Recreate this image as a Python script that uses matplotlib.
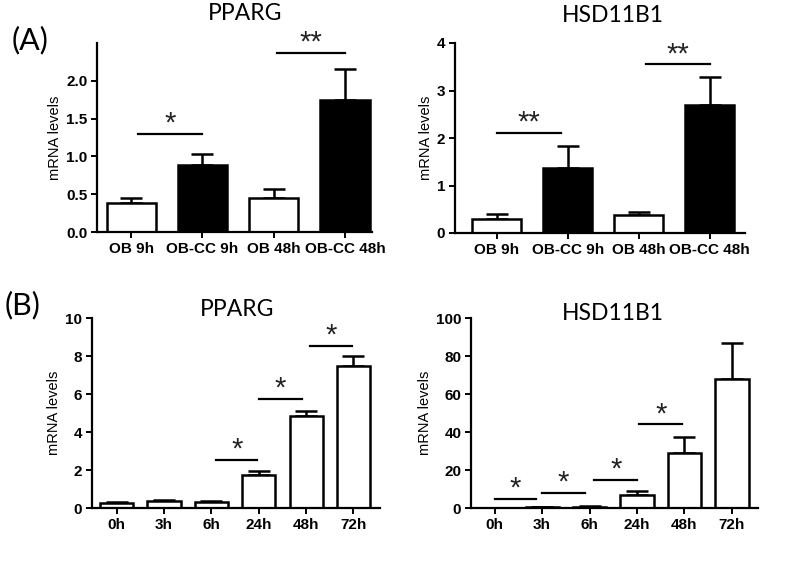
import numpy as np
import matplotlib
matplotlib.use("Agg")
import matplotlib.pyplot as plt

plt.rcParams['font.family'] = ['Liberation Sans', 'DejaVu Sans']

# panel A data
a_cats = ["OB 9h", "OB-CC 9h", "OB 48h", "OB-CC 48h"]
a_colors = ["white", "black", "white", "black"]
a_pparg = [0.39, 0.88, 0.45, 1.75]
a_pparg_err = [0.06, 0.15, 0.12, 0.41]
a_hsd = [0.30, 1.37, 0.37, 2.70]
a_hsd_err = [0.10, 0.46, 0.08, 0.58]
# significance marks: (from bar, to bar, height, label)
a_pparg_sig = [(0.1, 1.0, 1.30, "*"), (2.05, 3.0, 2.37, "**")]
a_hsd_sig = [(0.0, 0.9, 2.10, "**"), (2.1, 3.0, 3.55, "**")]

# panel B data
b_cats = ["0h", "3h", "6h", "24h", "48h", "72h"]
b_pparg = [0.27, 0.35, 0.30, 1.75, 4.85, 7.5]
b_pparg_err = [0.05, 0.05, 0.05, 0.20, 0.25, 0.5]
b_hsd = [0.05, 0.3, 0.6, 7.0, 29.0, 68.0]
b_hsd_err = [0.0, 0.1, 0.2, 2.0, 8.5, 19.0]
b_pparg_sig = [(2.1, 2.97, 2.53, "*"), (3.0, 3.91, 5.74, "*"), (4.08, 4.97, 8.53, "*")]
b_hsd_sig = [(0.0, 0.88, 4.7, "*"), (1.0, 1.9, 7.9, "*"), (2.1, 3.0, 14.7, "*"), (3.05, 3.95, 44.0, "*")]

W, H = 800, 566
fig = plt.figure(figsize=(8, 5.66), dpi=100)


def px_axes(l, r, b, t):
    return fig.add_axes([l / W, 1 - b / H, (r - l) / W, (b - t) / H])


def bar_panel(ax, cats, vals, errs, colors, sig, ylim, yticks, xlim, width, title, tx, ty, dy):
    x = np.arange(len(cats))
    ax.bar(x, vals, width=width, color=colors, edgecolor="black", linewidth=1.8, zorder=2)
    ax.errorbar(x, vals, yerr=[np.zeros(len(errs)), errs], fmt="none", ecolor="black",
                elinewidth=1.8, capsize=8, capthick=1.8, zorder=1)
    for i, j, h, lab in sig:
        ax.plot([i, j], [h, h], color="black", lw=1.6, clip_on=False)
        ax.text((i + j) / 2, h + dy, lab, ha="center", va="bottom", fontsize=21,
                color="#222222")
    ax.set_xlim(*xlim)
    ax.set_ylim(*ylim)
    ax.set_yticks(yticks)
    ax.set_xticks(x)
    ax.set_xticklabels(cats, fontsize=11, fontweight="bold")
    for lab in ax.get_yticklabels():
        lab.set_fontweight("bold")
        lab.set_fontsize(11)
    ax.set_ylabel("mRNA levels", fontsize=10.5, labelpad=3)
    for s in ["top", "right"]:
        ax.spines[s].set_visible(False)
    for s in ["left", "bottom"]:
        ax.spines[s].set_linewidth(1.6)
    ax.tick_params(width=1.4, length=4, pad=3)
    fig.text(tx / W, 1 - ty / H, title, ha="center", va="center", fontsize=16.5, family="Lato")


ax1 = px_axes(97, 372, 232, 43)
bar_panel(ax1, a_cats, a_pparg, a_pparg_err, a_colors, a_pparg_sig, (0, 2.5),
          [0, 0.5, 1.0, 1.5, 2.0], (-0.48, 3.38), 0.69, "PPARG", 245, 14, -0.05)
ax1.set_yticklabels(["0.0", "0.5", "1.0", "1.5", "2.0"])

ax2 = px_axes(455, 745, 233, 43)
bar_panel(ax2, a_cats, a_hsd, a_hsd_err, a_colors, a_hsd_sig, (0, 4),
          [0, 1, 2, 3, 4], (-0.59, 3.5), 0.69, "HSD11B1", 613, 15, -0.08)

ax3 = px_axes(92, 380, 508, 318)
bar_panel(ax3, b_cats, b_pparg, b_pparg_err, ["white"] * 6, b_pparg_sig, (0, 10),
          [0, 2, 4, 6, 8, 10], (-0.52, 5.56), 0.7, "PPARG", 237, 310, -0.2)

ax4 = px_axes(471, 758, 508, 318)
bar_panel(ax4, b_cats, b_hsd, b_hsd_err, ["white"] * 6, b_hsd_sig, (0, 100),
          [0, 20, 40, 60, 80, 100], (-0.5, 5.55), 0.7, "HSD11B1", 613, 313, -2.0)

fig.text(12 / W, 1 - 40 / H, "(A)", fontsize=22, family="Lato", va="center")
fig.text(5 / W, 1 - 305 / H, "(B)", fontsize=22, family="Lato", va="center")

fig.savefig("out.png", dpi=100)
